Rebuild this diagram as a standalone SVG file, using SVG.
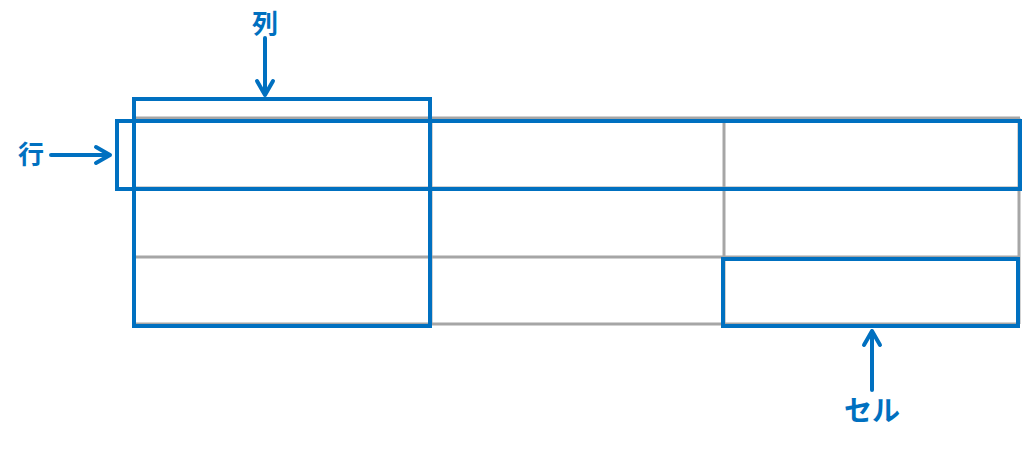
<svg xmlns="http://www.w3.org/2000/svg" width="1024" height="451" viewBox="0 0 1024 451">
<style>
.grid{stroke:#A6A6A6;stroke-width:3;fill:none}
.hl{stroke:#0070C0;stroke-width:4;fill:none}
.arr{stroke:#0070C0;stroke-width:4;fill:none;stroke-linecap:round;stroke-linejoin:round}
.lbl{font-family:"Noto Sans CJK JP","Noto Sans",sans-serif;font-weight:bold;fill:#0070C0;text-anchor:middle}
</style>
<rect width="1024" height="451" fill="#fff"/>
<g id="table" class="grid">
<line x1="134" y1="118" x2="1020" y2="118"/>
<line x1="134" y1="188" x2="1020" y2="188"/>
<line x1="134" y1="257" x2="1020" y2="257"/>
<line x1="134" y1="324" x2="1020" y2="324"/>
<line x1="134" y1="118" x2="134" y2="324"/>
<line x1="431" y1="118" x2="431" y2="324"/>
<line x1="724" y1="118" x2="724" y2="324"/>
<line x1="1019" y1="118" x2="1019" y2="324"/>
</g>
<g id="row-highlight"><rect class="hl" x="117" y="121" width="903" height="68"/></g>
<g id="col-highlight"><rect class="hl" x="134" y="99" width="296" height="227"/></g>
<g id="cell-highlight"><rect class="hl" x="723" y="259" width="295" height="67"/></g>
<g id="labels">
<text class="lbl" x="265" y="33" font-size="26">列</text>
<text class="lbl" x="31" y="164" font-size="26">行</text>
<text class="lbl" x="872" y="421" font-size="28">セル</text>
</g>
<g id="connectors" class="arr">
<path d="M265 38 V95 M257 81 L265 95 L273 81"/>
<path d="M51 155 H110 M96 147 L110 155 L96 163"/>
<path d="M872 390 V331 M864 345 L872 331 L880 345"/>
</g>
</svg>
